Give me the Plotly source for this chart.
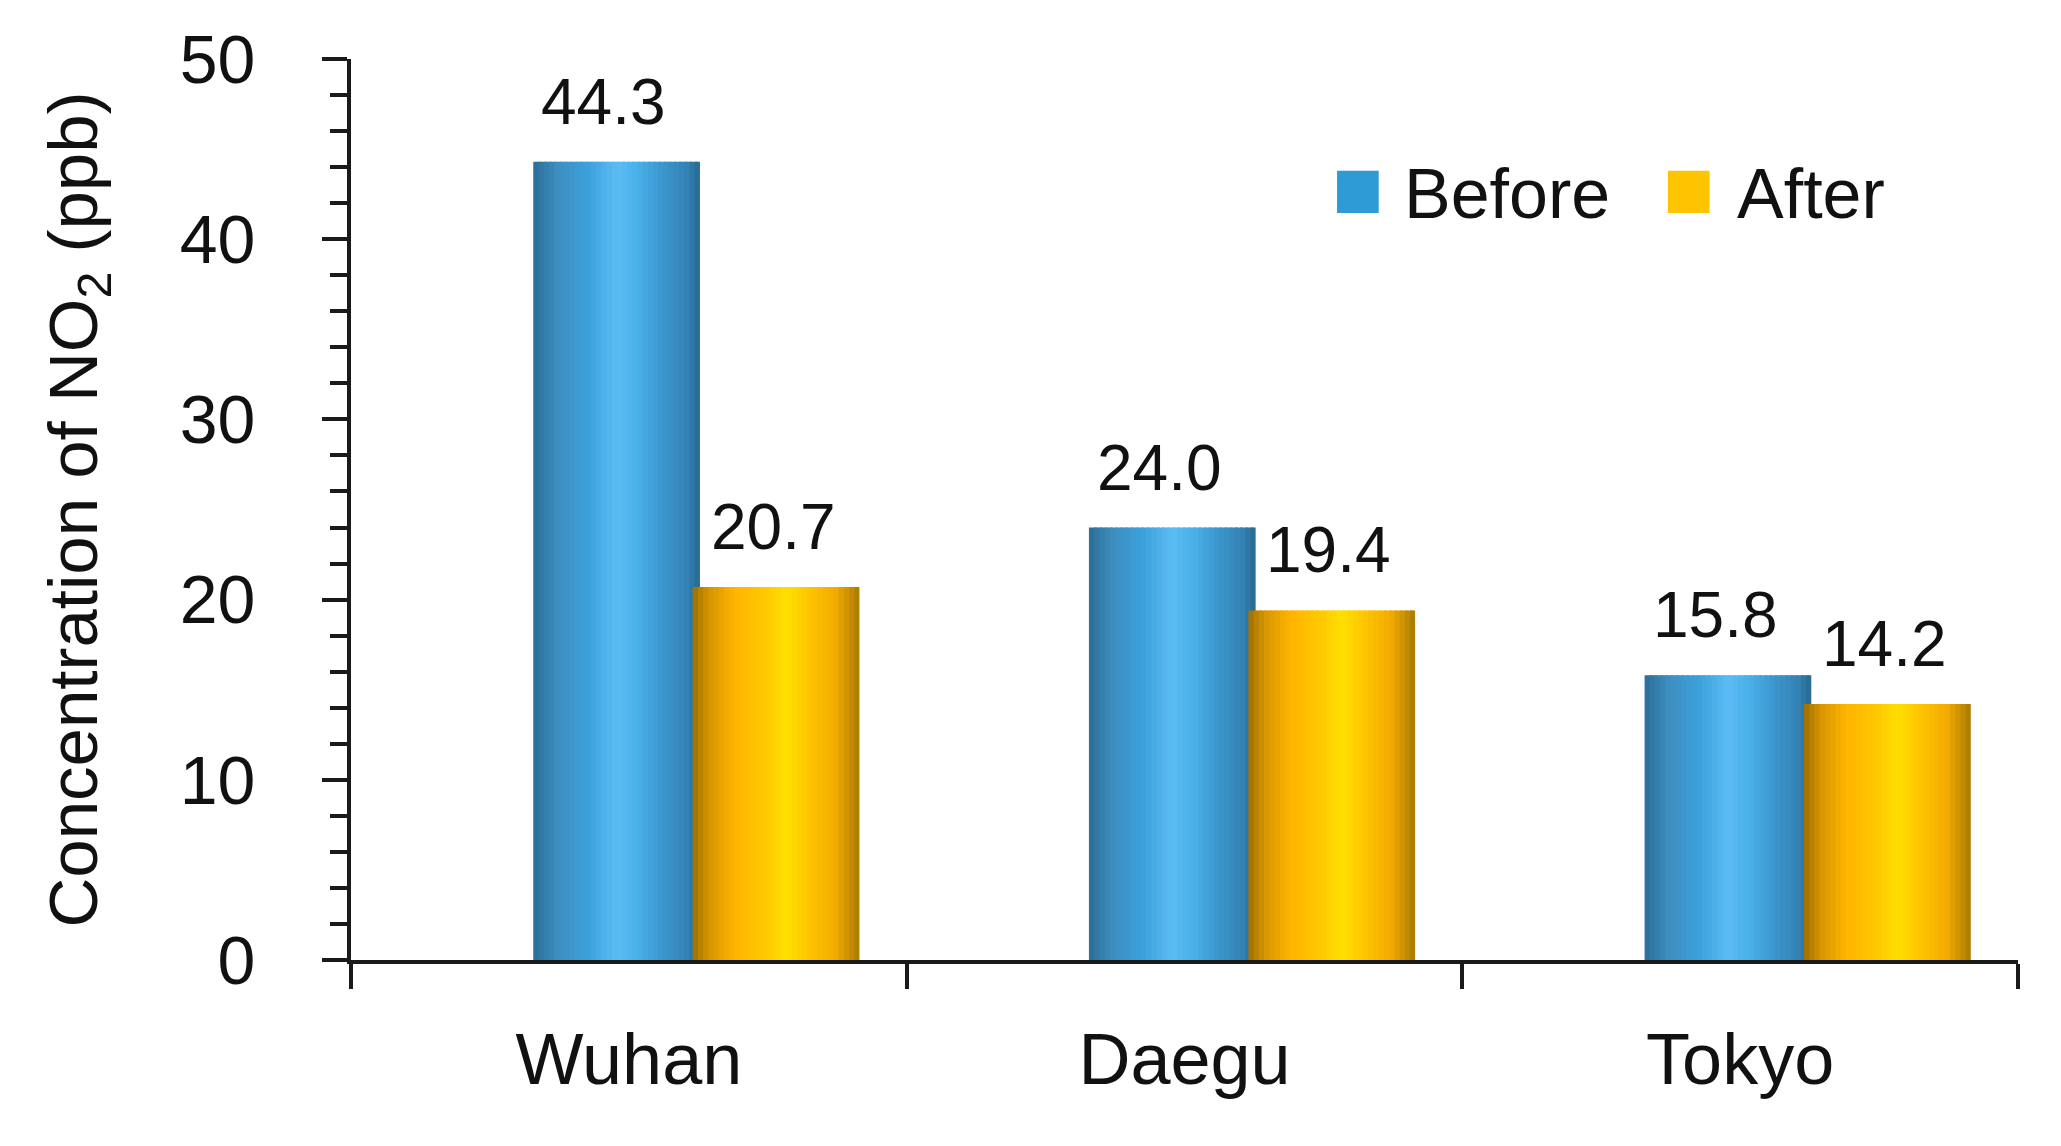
import plotly.graph_objects as go

cities = ["Wuhan", "Daegu", "Tokyo"]
before = [44.3, 24.0, 15.8]
after = [20.7, 19.4, 14.2]
series_names = ["Before", "After"]

FONT = "Liberation Sans, Arial, sans-serif"

# cylinder-ish shading, left edge -> right edge
blue_stops = [(0.0, "#2a6e97"), (0.15, "#3f8fc2"), (0.32, "#3aa0d9"), (0.5, "#5cbdf3"),
              (0.62, "#4ab1ea"), (0.78, "#3b96cc"), (0.92, "#3482b5"), (1.0, "#28688f")]
gold_stops = [(0.0, "#9e6e00"), (0.1, "#d69600"), (0.25, "#ffb400"), (0.45, "#ffca00"),
              (0.56, "#ffe000"), (0.7, "#ffc400"), (0.86, "#f2aa00"), (1.0, "#a87a00")]


def shade(stops, t):
    for (t0, c0), (t1, c1) in zip(stops[:-1], stops[1:]):
        if t0 <= t <= t1:
            f = (t - t0) / (t1 - t0)
            a = [int(c0[i:i + 2], 16) for i in (1, 3, 5)]
            b = [int(c1[i:i + 2], 16) for i in (1, 3, 5)]
            return "rgb(%d,%d,%d)" % tuple(round(x + (y - x) * f) for x, y in zip(a, b))
    return stops[-1][1]


N = 32
bar_w = 0.30
fig = go.Figure()

for vals, off, stops, name in [(before, -0.172, blue_stops, series_names[0]),
                               (after, 0.115, gold_stops, series_names[1])]:
    step = bar_w / N
    for i in range(N):
        w = step * 1.6 if i < N - 1 else step
        fig.add_trace(go.Bar(
            x=cities, y=vals, offset=off + i * step, width=w,
            marker=dict(color=shade(stops, (i + 0.5) / N), line=dict(width=0)),
            name=name, showlegend=False, hoverinfo="skip" if i != N // 2 else "x+y",
        ))

# value labels
for vals, dx in [(before, -0.045), (after, 0.26)]:
    for i, v in enumerate(vals):
        fig.add_annotation(x=i + dx, y=v, xref="x", yref="y", text=f"{v:.1f}",
                           showarrow=False, yanchor="bottom", yshift=22,
                           font=dict(family=FONT, size=64, color="#111"))

# legend drawn by hand so the swatches can be big
for name, col, sx, tx in [(series_names[0], "#2f9bd6", 0.5915, 0.6305),
                          (series_names[1], "#ffc400", 0.790, 0.830)]:
    fig.add_shape(type="rect", xref="paper", yref="paper",
                  x0=sx, x1=sx + 0.025, y0=0.829, y1=0.876,
                  fillcolor=col, line=dict(width=0))
    fig.add_annotation(x=tx, y=0.850, xref="paper", yref="paper", text=name,
                       showarrow=False, xanchor="left", yanchor="middle",
                       font=dict(family=FONT, size=70, color="#111"))

# page body has an 8px margin, so margins are trimmed by 8 on top/left
fig.update_layout(
    width=2061, height=1146,
    margin=dict(l=343, r=51, t=51, b=194),
    barmode="overlay",
    plot_bgcolor="white", paper_bgcolor="white",
    font=dict(family=FONT, color="#111"),
    showlegend=False,
)
fig.update_xaxes(
    type="category", range=[-0.5, 2.5],
    showline=True, linecolor="#1a1a1a", linewidth=4,
    ticks="outside", tickson="boundaries", ticklen=25, tickwidth=4, tickcolor="#1a1a1a",
    tickfont=dict(family=FONT, size=72, color="#111"), ticklabelstandoff=34,
    showgrid=False,
)
fig.update_yaxes(
    range=[0, 50], dtick=10,
    showline=True, linecolor="#1a1a1a", linewidth=4,
    ticks="outside", ticklen=25, tickwidth=4, tickcolor="#1a1a1a",
    minor=dict(dtick=2, ticks="outside", ticklen=17, tickwidth=4, tickcolor="#1a1a1a"),
    tickfont=dict(family=FONT, size=68, color="#111"), ticklabelstandoff=53,
    title=dict(text="Concentration of NO<sub>2</sub> (ppb)", standoff=61,
               font=dict(family=FONT, size=69, color="#111")),
    showgrid=False, zeroline=False,
)

fig.write_html("out.html")
